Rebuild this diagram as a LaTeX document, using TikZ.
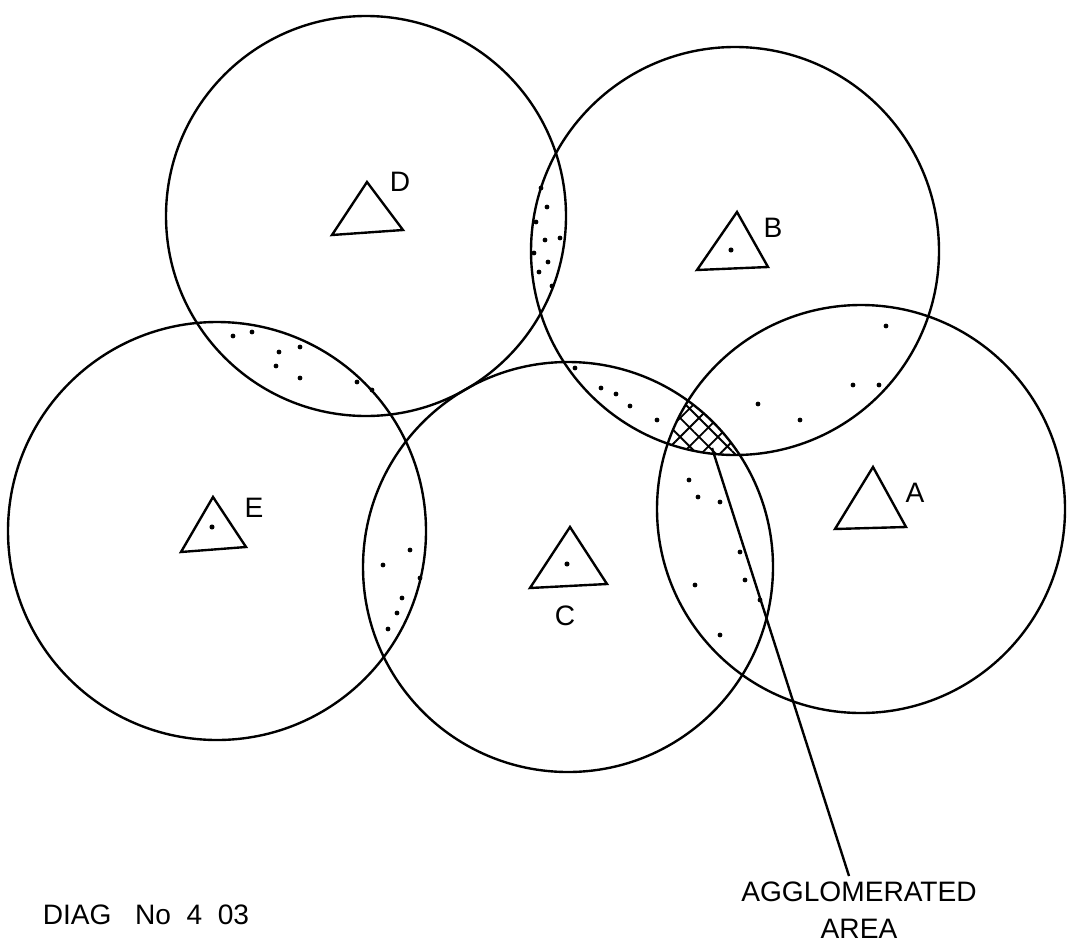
\documentclass[tikz,border=0pt]{standalone}
\usepackage{fontspec}
\setmainfont{Liberation Sans}
\usetikzlibrary{patterns.meta}

\begin{document}
\begin{tikzpicture}[x=0.025cm,y=-0.025cm,line width=1.7pt,
  station/.style={line join=miter},
  lbl/.style={font=\fontsize{20}{23}\selectfont}]
\useasboundingbox (0,0) rectangle (1078,947);
% circle centres
\coordinate (cD) at (366,216);
\coordinate (cB) at (735,251);
\coordinate (cE) at (217,531);
\coordinate (cC) at (568,567);
\coordinate (cA) at (861,509);
% agglomerated area : inside A, B and C
\begin{scope}
  \clip (cB) circle (204);
  \clip (cC) circle (205);
  \fill[pattern={Hatch[angle=45,distance=9.5pt,line width=1.3pt]}] (cA) circle (204);
\end{scope}
% circles
\draw (cD) circle (200);
\draw (cB) circle (204);
\draw (cE) circle (209);
\draw (cC) circle (205);
\draw (cA) circle (204);
% stations
\draw[station] (367,182) -- (332,235) -- (403,230) -- cycle;
\draw[station] (737,212) -- (697,270) -- (768,267) -- cycle;
\draw[station] (213,497) -- (181,552) -- (246,547) -- cycle;
\draw[station] (570,527) -- (530,588) -- (607,584) -- cycle;
\draw[station] (873,467) -- (835,529) -- (906,527) -- cycle;
\foreach \p in {(731,250),(567,564),(212,527)} \fill \p circle (1.8pt);
\node[lbl] (labD) at (400,182) {D};
\node[lbl] (labB) at (773,228) {B};
\node[lbl] (labE) at (254,508) {E};
\node[lbl] (labC) at (565,616) {C};
\node[lbl] (labA) at (915,493) {A};
% stippled overlaps
\foreach \p in {(541,188),(547,207),(560,238),(545,240),(534,253),(548,262),
                (539,272),(552,286),(536,222),(233,336),(279,352),(300,347),
                (276,366),(300,378),(357,382),(372,390),(252,332),(575,368),
                (601,388),(616,394),(630,406),(657,420),(886,326),(853,385),
                (879,385),(758,404),(800,420),(689,480),(698,497),(720,502),
                (695,585),(745,580),(760,600),(720,635),(740,552),(383,565),
                (410,550),(397,613),(388,629),(420,578),(402,598)}
  \fill \p circle (1.7pt);
% leader
\coordinate (hatch) at (712,448);
\node[lbl,align=center,anchor=north] (agg) at (859,876) {AGGLOMERATED\\[3pt]AREA};
\draw (hatch) -- (agg.north west-|849,0);
\node[lbl] (diag) at (146,915) {DIAG\ \ \ No\ \ 4\ \ 03};
\end{tikzpicture}
\end{document}
